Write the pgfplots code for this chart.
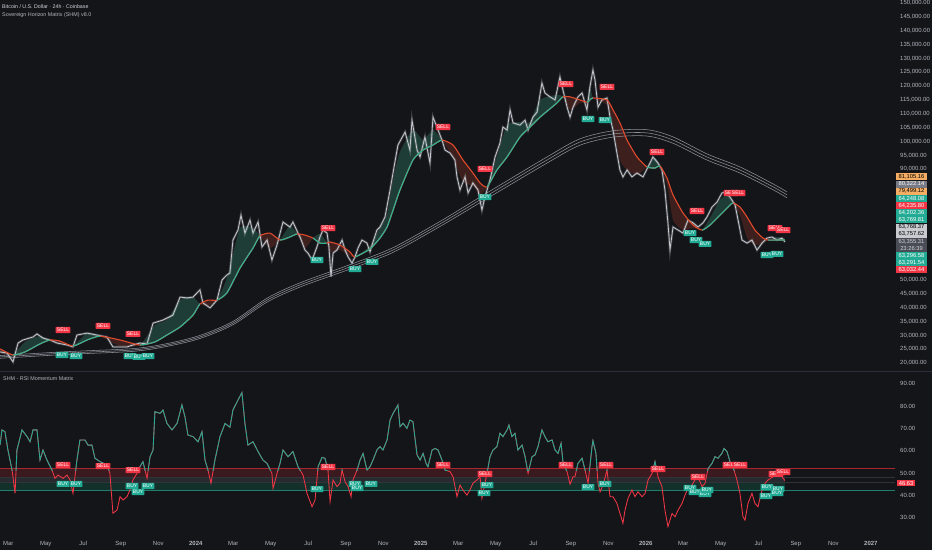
\documentclass[border=0pt]{standalone}
\usepackage{fontspec}
\setmainfont{Liberation Sans}
\usepackage{pgfplots}
\pgfplotsset{compat=1.18}
\usepgfplotslibrary{fillbetween}
\usepackage{pgfplotstable}

\definecolor{bg}{HTML}{141519}
\definecolor{axtxt}{HTML}{B2B5BE}
\definecolor{bright}{HTML}{D1D4DC}
\definecolor{candle}{HTML}{C5C8CF}
\definecolor{bull}{HTML}{2AB797}
\definecolor{bear}{HTML}{E0492C}
\definecolor{bullfill}{HTML}{1E3D37}
\definecolor{bearfill}{HTML}{3D201D}
\definecolor{band}{HTML}{8C8F97}
\definecolor{tvred}{HTML}{F23645}
\definecolor{tvteal}{HTML}{22AB94}
\definecolor{tvorange}{HTML}{F5AE63}
\definecolor{tvgrey}{HTML}{787B86}
\definecolor{tvlight}{HTML}{C9CBD1}
\definecolor{tvdark}{HTML}{4A4D55}
\definecolor{sep}{HTML}{2A2E39}
\definecolor{rsiredfill}{HTML}{3A1A1F}
\definecolor{rsigreyfill}{HTML}{272A2F}
\definecolor{rsitealfill}{HTML}{14302B}
\definecolor{rsiredline}{HTML}{A8262F}
\definecolor{rsitealline}{HTML}{1F7F6E}
\definecolor{rsifaint}{HTML}{30333A}

\pgfplotstableread{
m p
1.56 24.0
1.93 23.6
2.25 20.4
2.52 27.2
2.78 28.3
3.32 29.4
3.53 30.5
3.85 29.0
4.22 28.3
4.60 27.2
5.13 26.5
5.45 25.8
5.66 30.1
6.20 30.8
6.73 30.1
7.26 29.4
7.58 25.8
7.96 25.8
8.33 25.8
8.65 26.5
9.02 27.2
9.40 26.9
9.72 34.4
10.25 35.5
10.78 37.3
11.16 43.8
11.53 43.5
11.85 43.8
12.22 46.4
12.38 41.7
12.76 39.9
13.13 42.7
13.40 50.0
13.66 51.8
13.82 52.5
13.98 64.4
14.25 68.0
14.41 73.4
14.62 66.9
14.89 71.6
15.05 66.9
15.32 70.9
15.53 61.9
15.80 64.4
16.06 57.2
16.33 62.6
16.65 70.9
17.02 69.1
17.18 70.9
17.45 66.9
17.56 65.5
17.82 60.8
17.98 59.7
18.20 57.2
18.46 61.9
18.62 65.5
18.78 68.0
19.00 66.9
19.10 61.9
19.21 51.1
19.32 59.7
19.53 60.8
19.80 64.4
19.96 60.8
20.12 58.3
20.33 56.1
20.49 58.3
20.65 61.5
20.86 64.4
21.13 63.3
21.29 60.1
21.45 63.7
21.66 68.0
21.82 69.1
22.09 72.7
22.36 82.5
22.62 92.6
22.78 98.7
23.16 103.4
23.42 96.9
23.53 107.7
23.80 96.9
23.96 94.4
24.22 101.6
24.49 92.2
24.65 108.8
24.92 104.1
25.13 100.5
25.29 96.9
25.56 95.8
25.82 93.3
25.93 87.2
26.09 82.5
26.36 87.2
26.52 81.4
26.78 85.0
27.05 82.5
27.26 75.2
27.42 79.9
27.69 86.1
27.96 94.4
28.22 99.4
28.38 105.2
28.60 104.1
28.76 111.4
28.92 106.7
29.29 105.9
29.56 107.7
29.72 104.1
29.98 108.8
30.20 110.6
30.46 121.1
30.62 117.5
30.89 116.1
31.16 115.0
31.42 123.3
31.58 118.6
31.80 112.4
31.96 108.8
32.12 112.4
32.38 116.1
32.60 117.5
32.86 111.4
33.02 119.7
33.18 125.8
33.29 122.2
33.45 112.4
33.66 115.0
33.93 115.7
34.09 108.8
34.25 104.1
34.46 95.8
34.62 89.7
34.78 87.2
35.00 89.7
35.26 87.2
35.53 88.6
35.85 87.2
36.12 90.8
36.38 94.4
36.65 92.2
36.86 89.7
37.02 82.5
37.18 70.6
37.29 60.8
37.45 69.1
37.72 68.0
37.98 66.9
38.25 71.6
38.52 70.6
38.78 69.1
39.05 70.6
39.26 72.7
39.53 76.3
39.80 78.1
40.06 81.4
40.22 81.7
40.49 79.9
40.76 77.1
40.92 71.6
41.13 64.4
41.40 63.3
41.66 64.4
41.93 60.8
42.20 63.3
42.46 65.1
42.73 65.5
43.00 64.4
43.26 65.1
43.42 63.7
}\price

\pgfplotstableread{
m T F
1.56 25.1 23.6
2.25 22.9 22.9
2.89 24.0 27.6
3.69 26.9 29.7
4.22 28.3 28.3
4.76 27.9 27.2
5.45 26.1 26.1
6.20 28.3 30.8
6.89 29.7 29.7
7.96 28.3 26.1
9.02 26.5 26.5
9.82 27.6 33.7
10.46 30.1 35.5
11.16 33.0 42.7
11.85 37.3 43.8
12.22 41.3 41.3
12.65 42.7 40.6
13.13 42.7 42.7
13.66 45.3 50.7
14.36 54.3 68.7
15.05 61.5 68.7
15.42 65.9 65.9
15.96 66.9 61.5
16.49 64.4 64.4
17.02 65.5 69.5
17.40 66.6 66.6
17.82 66.2 61.5
18.25 65.1 65.1
18.62 63.3 66.6
19.00 63.3 63.3
19.16 63.7 60.1
19.69 62.6 60.8
20.22 60.1 58.6
20.49 58.3 58.3
21.29 61.2 62.2
21.82 65.1 68.7
22.20 69.1 73.4
22.52 75.2 86.1
22.89 82.5 96.2
23.58 93.3 104.1
24.12 96.9 100.5
24.65 98.7 104.1
25.13 100.5 100.5
25.72 98.7 94.0
26.25 93.3 85.4
26.78 88.6 83.9
27.16 85.0 80.7
27.53 83.6 83.6
28.06 89.7 94.4
28.60 94.4 105.9
29.29 101.6 107.0
29.82 105.2 107.0
30.36 108.8 115.0
31.26 113.9 116.8
31.58 116.1 116.1
31.96 116.1 111.4
32.49 115.0 113.9
32.86 114.2 114.2
33.02 115.0 120.4
33.18 115.7 115.7
33.93 115.0 113.2
34.25 111.4 105.9
34.62 106.7 93.3
35.00 100.5 89.7
35.53 94.4 87.9
36.06 90.8 90.8
36.49 90.4 94.0
36.76 91.1 91.1
37.13 86.8 84.3
37.45 80.7 71.6
37.98 74.2 68.0
38.52 69.8 68.7
39.00 68.0 68.0
39.42 69.8 72.4
39.96 73.4 78.9
40.38 76.3 80.7
40.65 77.8 77.8
41.02 76.3 73.4
41.40 72.7 65.1
41.82 68.0 62.6
42.25 65.1 63.3
42.52 64.4 64.4
43.00 64.4 65.5
43.42 64.4 64.8
}\ribbon

\pgfplotstableread{
m lo mid hi
1.56 21.7 22.2 22.7
5.13 23.1 23.6 24.1
8.65 24.2 24.7 25.2
10.46 26.0 26.5 27.0
12.22 28.85 29.4 29.95
13.98 33.8 34.4 35.0
15.80 42.0 42.7 43.4
17.56 47.45 48.2 48.95
20.22 53.9 54.7 55.5
22.52 59.95 60.8 61.65
25.02 69.3 70.2 71.1
27.16 77.9 78.9 79.9
30.73 92.2 93.3 94.4
32.49 98.65 99.8 100.95
34.25 101.55 102.7 103.85
36.06 101.95 103.1 104.25
37.45 99.35 100.5 101.65
39.26 93.3 94.4 95.5
41.02 88.6 89.7 90.8
42.79 82.55 83.6 84.65
43.53 79.65 80.7 81.75
}\slow

\pgfplotstableread{
m r
1.56 62.5
1.66 69.3
1.82 68.5
1.98 60.3
2.20 51.3
2.36 40.9
2.46 60.3
2.73 69.3
3.00 66.3
3.16 64.0
3.32 69.3
3.53 69.3
3.69 55.8
3.85 60.3
4.06 55.8
4.33 51.3
4.49 47.6
4.65 49.1
4.92 47.6
5.13 49.1
5.29 46.9
5.45 40.9
5.66 55.8
5.82 64.8
6.09 64.8
6.25 62.5
6.46 62.5
6.62 56.6
6.89 55.1
7.26 53.6
7.42 49.8
7.58 32.0
7.80 33.4
7.96 39.4
8.12 37.9
8.33 39.4
8.49 42.4
8.65 46.9
8.86 49.8
9.02 52.8
9.18 55.1
9.40 47.6
9.56 57.3
9.72 60.3
9.82 77.5
10.09 76.7
10.25 78.2
10.46 72.2
10.73 69.3
11.00 72.2
11.26 80.5
11.42 75.2
11.58 67.0
11.85 66.3
12.12 64.0
12.33 68.5
12.49 55.8
12.65 51.3
12.81 45.4
13.02 55.8
13.29 66.3
13.56 72.2
13.82 70.5
13.98 78.2
14.25 82.7
14.46 86.0
14.62 72.2
14.78 62.5
15.05 64.0
15.32 59.6
15.58 55.8
15.80 54.3
16.06 49.8
16.12 43.1
16.33 49.8
16.49 54.3
16.65 60.3
16.92 57.3
17.18 59.6
17.45 52.8
17.72 49.1
17.93 40.9
18.20 34.9
18.36 37.9
18.52 52.8
18.73 57.0
18.89 56.6
19.05 51.3
19.16 37.2
19.32 46.9
19.53 43.9
19.69 45.4
19.80 51.3
19.96 46.1
20.12 43.9
20.28 39.4
20.38 46.9
20.60 51.3
20.76 55.8
20.92 58.8
21.13 51.3
21.29 52.8
21.45 55.8
21.66 60.3
21.82 61.8
21.98 60.3
22.20 64.8
22.36 73.7
22.52 76.7
22.73 79.7
22.78 80.5
22.89 70.7
23.05 72.3
23.26 70.0
23.42 73.7
23.58 73.0
23.80 58.1
23.96 55.8
24.12 58.8
24.28 54.3
24.38 52.8
24.60 60.3
24.76 61.0
24.92 60.3
25.13 55.8
25.29 51.3
25.56 50.6
25.72 48.3
25.93 39.4
26.09 44.6
26.25 42.4
26.46 40.1
26.62 42.4
26.78 45.4
27.00 46.9
27.16 48.3
27.26 38.7
27.53 49.8
27.69 57.3
27.85 60.3
28.06 61.8
28.22 67.8
28.38 66.3
28.60 69.3
28.70 71.5
28.86 66.3
29.02 67.8
29.18 60.3
29.40 62.5
29.56 57.3
29.72 49.8
29.93 57.3
30.09 58.1
30.25 61.8
30.46 69.3
30.62 66.3
30.78 64.0
31.00 64.8
31.16 60.3
31.32 58.8
31.48 63.3
31.58 55.0
31.80 50.5
31.96 45.0
32.12 48.3
32.22 48.3
32.38 54.3
32.60 56.6
32.76 51.3
32.92 45.4
33.13 61.8
33.18 64.5
33.34 58.8
33.45 45.4
33.56 41.6
33.72 44.6
33.93 51.3
34.09 39.4
34.25 39.4
34.46 36.4
34.62 31.9
34.78 27.5
34.89 33.4
35.05 38.7
35.26 42.4
35.42 39.4
35.58 41.6
35.80 39.4
35.96 40.9
36.12 46.9
36.33 49.8
36.49 55.1
36.65 48.3
36.86 43.9
37.02 33.4
37.18 26.0
37.40 31.9
37.56 30.4
37.72 33.4
37.93 36.4
38.09 40.1
38.25 43.1
38.46 44.6
38.62 46.9
38.78 48.3
39.00 43.9
39.16 45.4
39.32 52.0
39.53 54.3
39.69 57.3
39.85 56.6
40.06 58.8
40.17 61.0
40.33 59.6
40.49 55.1
40.65 52.8
40.86 46.9
41.02 40.9
41.18 30.4
41.29 28.9
41.45 36.4
41.66 40.9
41.82 36.4
41.98 34.9
42.20 42.4
42.36 45.4
42.52 46.9
42.78 48.3
43.05 49.8
43.26 48.3
43.42 46.6
}\rsi

\newcommand{\tealclip}{\clip (axis cs:2.25,0) rectangle (axis cs:4.22,200)
 (axis cs:5.45,0) rectangle (axis cs:6.89,200)
 (axis cs:9.02,0) rectangle (axis cs:12.22,200)
 (axis cs:13.13,0) rectangle (axis cs:15.42,200)
 (axis cs:16.49,0) rectangle (axis cs:17.40,200)
 (axis cs:18.25,0) rectangle (axis cs:19.00,200)
 (axis cs:20.49,0) rectangle (axis cs:25.13,200)
 (axis cs:27.53,0) rectangle (axis cs:31.58,200)
 (axis cs:32.86,0) rectangle (axis cs:33.18,200)
 (axis cs:36.06,0) rectangle (axis cs:36.76,200)
 (axis cs:39.00,0) rectangle (axis cs:40.65,200)
 (axis cs:42.52,0) rectangle (axis cs:44.00,200);}

\pgfplotsset{
 tv/.style={scale only axis, width=895bp, xmin=1.557, xmax=49.29, clip=false,
   axis line style={draw=none}, tick style={draw=none}, major tick length=0pt,
   ticklabel style={font=\fontsize{6}{7}\selectfont, text=axtxt},
   yticklabel pos=right,
   yticklabel style={anchor=west, inner sep=0pt, xshift=5bp}},
 sig/.style n args={2}{draw=none, mark=none, nodes near coords={#1},
   every node near coord/.append style={anchor=center, fill=#2, text=white,
   font=\fontsize{5}{5}\selectfont, inner xsep=1.3bp, inner ysep=1.3bp,
   rounded corners=0.6bp}},
 tag/.style n args={2}{draw=none, mark=none, point meta=explicit symbolic, nodes near coords,
   every node near coord/.append style={anchor=center, fill=#1, text=#2,
   minimum width=31bp, minimum height=7bp, inner sep=0pt,
   font=\fontsize{5.8}{6}\selectfont}},
}

\begin{document}
\begin{tikzpicture}
\fill[bg] (0bp,0bp) rectangle (932bp,-550bp);

% ---------------- price panel ----------------
\begin{axis}[tv, at={(0bp,0bp)}, anchor=north west, height=369bp,
  ymin=17.83, ymax=151.08, xtick=\empty,
  ytick={20,25,30,35,40,45,50,90,95,100,105,110,115,120,125,130,135,140,145,150},
  yticklabels={{20,000.00},{25,000.00},{30,000.00},{35,000.00},{40,000.00},{45,000.00},{50,000.00},{90,000.00},{95,000.00},{100,000.00},{105,000.00},{110,000.00},{115,000.00},{120,000.00},{125,000.00},{130,000.00},{135,000.00},{140,000.00},{145,000.00},{150,000.00}}]

\addplot[draw=none, name path=T, smooth, tension=0.35] table[x=m,y=T] {\ribbon};
\addplot[draw=none, name path=F, smooth, tension=0.35] table[x=m,y=F] {\ribbon};
\addplot[fill=bearfill, draw=none] fill between[of=T and F, on layer=main];
\begin{scope}
\tealclip
\addplot[fill=bullfill, draw=none] fill between[of=T and F, on layer=main];
\end{scope}

\addplot[band, line width=0.55bp, smooth] table[x=m,y=lo] {\slow};
\addplot[band, line width=0.55bp, smooth] table[x=m,y=mid] {\slow};
\addplot[band, line width=0.55bp, smooth] table[x=m,y=hi] {\slow};

\addplot[candle, opacity=0.25, line width=2.4bp] table[x=m,y=p] {\price};
\addplot[candle, line width=0.8bp] table[x=m,y=p] {\price};

\addplot[bear, line width=1.1bp, smooth, tension=0.35] table[x=m,y=T] {\ribbon};
\begin{scope}
\tealclip
\addplot[bull, line width=1.1bp, smooth, tension=0.35] table[x=m,y=T] {\ribbon};
\end{scope}

\addplot[sig={SELL}{tvred}] coordinates {(4.92,31.9) (7.05,33.4) (8.65,30.5) (19.05,68.7) (25.18,105.2) (27.42,90.1) (31.74,120.7) (33.93,119.7) (36.60,96.2) (38.73,74.9) (40.54,81.4) (40.92,81.4) (42.89,68.7) (43.32,68.0)};
\addplot[sig={BUY}{tvteal}] coordinates {(4.86,22.9) (5.61,22.5) (8.49,22.5) (8.97,22.2) (9.45,22.5) (18.46,57.2) (20.49,53.9) (21.40,56.5) (27.42,79.9) (32.92,108.1) (33.82,107.7) (38.36,66.9) (38.68,64.4) (39.16,63.0) (42.46,59.0) (43.00,59.4)};

\addplot[tag={tvorange}{black}] table[x=m,y=p,meta=t] {
m p t
50.17 87.2 81,105.16
50.17 82.0 79,499.12
};
\addplot[tag={tvgrey}{white}] table[x=m,y=p,meta=t] {
m p t
50.17 84.6 80,322.14
};
\addplot[tag={tvteal}{white}] table[x=m,y=p,meta=t] {
m p t
50.17 79.4 64,248.08
50.17 74.2 64,202.36
50.17 71.7 63,769.81
50.17 58.7 63,296.58
50.17 56.2 63,291.54
};
\addplot[tag={tvred}{white}] table[x=m,y=p,meta=t] {
m p t
50.17 76.8 64,235.80
50.17 53.6 63,032.44
};
\addplot[tag={tvlight}{black}] table[x=m,y=p,meta=t] {
m p t
50.17 69.1 63,768.37
50.17 66.5 63,757.62
};
\addplot[tag={tvdark}{bright}] table[x=m,y=p,meta=t] {
m p t
50.17 63.9 63,355.31
50.17 61.3 23:26:39
};
\end{axis}

\draw[sep, line width=0.8bp] (0bp,-371bp) -- (932bp,-371bp);

% ---------------- RSI panel ----------------
\begin{axis}[tv, at={(0bp,-372bp)}, anchor=north west, height=164bp,
  ymin=21.79, ymax=95.23,
  ytick={30,40,50,60,70,80,90},
  yticklabels={30.00,40.00,50.00,60.00,70.00,80.00,90.00},
  xtick={2,4,6,8,10,12,14,16,18,20,22,24,26,28,30,32,34,36,38,40,42,44,46,48},
  xticklabels={Mar,May,Jul,Sep,Nov,\textbf{2024},Mar,May,Jul,Sep,Nov,\textbf{2025},Mar,May,Jul,Sep,Nov,\textbf{2026},Mar,May,Jul,Sep,Nov,\textbf{2027}},
  xticklabel style={anchor=north, inner sep=0pt, yshift=-5bp}]

\addplot[fill=rsiredfill, draw=none] coordinates {(1.557,52) (43.42,52) (43.42,48.3) (1.557,48.3)} --cycle;
\addplot[fill=rsigreyfill, draw=none] coordinates {(1.557,48.3) (43.42,48.3) (43.42,46) (1.557,46)} --cycle;
\addplot[fill=rsitealfill, draw=none] coordinates {(1.557,46) (43.42,46) (43.42,42) (1.557,42)} --cycle;
\addplot[rsiredline, line width=0.8bp] coordinates {(1.557,52) (49.29,52)};
\addplot[rsifaint, line width=0.6bp] coordinates {(1.557,48.3) (49.29,48.3)};
\addplot[rsifaint, line width=0.6bp] coordinates {(1.557,46) (49.29,46)};
\addplot[rsitealline, line width=0.8bp] coordinates {(1.557,42) (49.29,42)};

\addplot[tvred, line width=0.85bp] table[x=m,y=r] {\rsi};
\begin{scope}
\clip (axis cs:0,51) rectangle (axis cs:50,100);
\addplot[tvteal, line width=0.85bp] table[x=m,y=r] {\rsi};
\end{scope}

\addplot[sig={SELL}{tvred}] coordinates {(4.92,53.6) (7.05,53.1) (8.65,51.3) (19.05,52.7) (25.18,53.6) (27.42,49.6) (31.74,53.6) (33.88,53.6) (36.65,51.8) (38.78,48.2) (40.49,53.6) (41.02,53.6) (42.94,49.6) (43.32,50.4)};
\addplot[sig={BUY}{tvteal}] coordinates {(4.92,45.1) (5.61,45.1) (8.60,44.2) (8.92,41.5) (9.45,44.2) (18.46,42.8) (20.49,45.1) (20.60,43.3) (21.34,45.1) (27.53,44.6) (27.37,41.0) (32.92,43.7) (33.82,45.1) (38.36,43.3) (38.62,41.5) (39.16,40.6) (39.26,42.4) (42.46,43.7) (42.41,39.7) (43.05,42.8) (43.00,41.0)};

\addplot[tag={tvred}{white}, every node near coord/.append style={minimum width=18.5bp, minimum height=6.5bp}] table[x=m,y=r,meta=t] {
m r t
49.88 45.5 46.63
};
\end{axis}

\node[anchor=west, inner sep=0pt, text=bright, font=\fontsize{5.3}{6}\selectfont] at (2bp,-6.3bp) {Bitcoin / U.S. Dollar · 24h · Coinbase};
\node[anchor=west, inner sep=0pt, text=axtxt, font=\fontsize{5.4}{6}\selectfont] at (2bp,-14.8bp) {Sovereign Horizon Matrix (SHM) v8.0};
\node[anchor=west, inner sep=0pt, text=axtxt, font=\fontsize{5.4}{6}\selectfont] at (3bp,-379bp) {SHM - RSI Momentum Matrix};

\pgfresetboundingbox
\path[use as bounding box] (0bp,0bp) rectangle (932bp,-550bp);
\end{tikzpicture}
\end{document}
